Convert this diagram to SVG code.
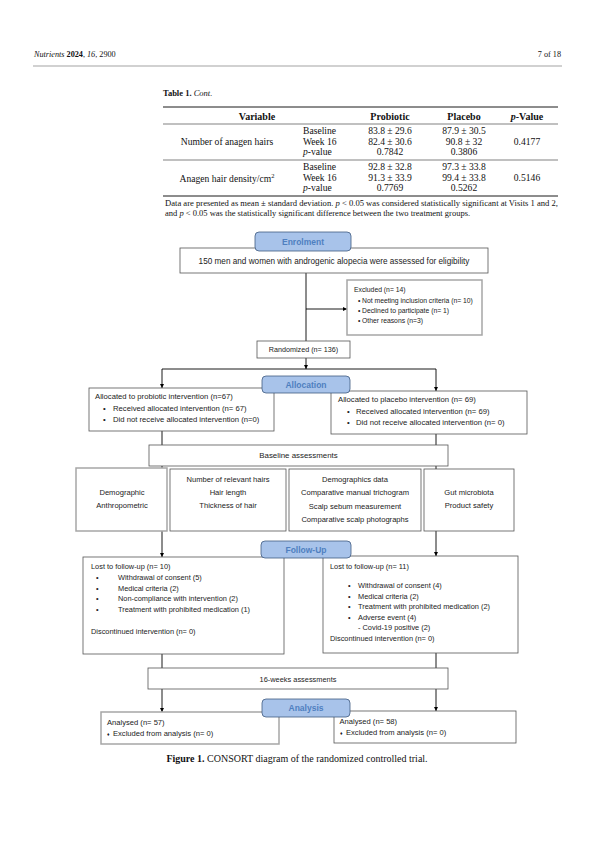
<svg xmlns="http://www.w3.org/2000/svg" width="595" height="842" viewBox="0 0 595 842">
<defs>
<marker id="ah" viewBox="0 0 6 6" refX="6" refY="3" markerWidth="4.5" markerHeight="4.5" orient="auto" markerUnits="userSpaceOnUse"><path d="M0,0 L6,3 L0,6 z" fill="#000"/></marker>
</defs>
<style>
.serif{font-family:"Liberation Serif","DejaVu Serif",serif;fill:#111}
.sans{font-family:"Liberation Sans",Arial,sans-serif;font-size:7.4px;fill:#222}
.f68{font-size:6.8px}
.f72{font-size:7.2px}
.f76{font-size:7.6px}
.f77{font-size:7.7px}
.f79{font-size:7.9px}
.f82{font-size:8.2px}
.dia{font-size:5px}
.c{text-anchor:middle}
.box{fill:#fff;stroke:#555;stroke-width:0.8}
.gbox{fill:#fff;stroke:#a6a6a6;stroke-width:1.5}
.stage{fill:#a8c3ea;stroke:#3f5a80;stroke-width:0.8}
.stxt{font-family:"Liberation Sans",Arial,sans-serif;font-size:8.5px;font-weight:bold;fill:#4f7fc0;text-anchor:middle}
.ln{stroke:#000;stroke-width:0.9;fill:none}
.rule{stroke:#000}
</style>
<rect width="595" height="842" fill="#fff"/>
<g id="header">
<text class="serif" x="34" y="57" font-size="8.2"><tspan font-style="italic">Nutrients</tspan> <tspan font-weight="bold">2024</tspan>, <tspan font-style="italic">16</tspan>, 2900</text>
<text class="serif" x="561" y="57" font-size="8.2" text-anchor="end">7 of 18</text>
<line x1="33" y1="66" x2="562" y2="66" stroke="#666" stroke-width="0.6"/>
</g>
<g id="table">
<text class="serif" x="163" y="96" font-size="8.5"><tspan font-weight="bold">Table 1.</tspan> <tspan font-style="italic">Cont.</tspan></text>
<line class="rule" x1="163" y1="107" x2="558" y2="107" stroke-width="0.9"/>
<g class="serif" font-size="10" font-weight="bold">
<text class="c" x="257" y="119.5">Variable</text>
<text class="c" x="390" y="119.5">Probiotic</text>
<text class="c" x="464" y="119.5">Placebo</text>
<text class="c" x="527" y="119.5"><tspan font-style="italic">p</tspan>-Value</text>
</g>
<line class="rule" x1="163" y1="124" x2="558" y2="124" stroke-width="0.5"/>
<g class="serif" font-size="9.6">
<text class="c" x="227" y="145">Number of anagen hairs</text>
<text x="303" y="133.5">Baseline</text>
<text x="303" y="144.5">Week 16</text>
<text x="303" y="155"><tspan font-style="italic">p</tspan>-value</text>
<text class="c" x="390" y="133.5">83.8 ± 29.6</text>
<text class="c" x="390" y="144.5">82.4 ± 30.6</text>
<text class="c" x="390" y="155">0.7842</text>
<text class="c" x="464" y="133.5">87.9 ± 30.5</text>
<text class="c" x="464" y="144.5">90.8 ± 32</text>
<text class="c" x="464" y="155">0.3806</text>
<text class="c" x="527" y="145">0.4177</text>
</g>
<line class="rule" x1="163" y1="160" x2="558" y2="160" stroke-width="0.5"/>
<g class="serif" font-size="9.6">
<text class="c" x="227" y="181.5">Anagen hair density/cm<tspan font-size="6.5" dy="-3.5">2</tspan></text>
<text x="303" y="169.5">Baseline</text>
<text x="303" y="180.5">Week 16</text>
<text x="303" y="191"><tspan font-style="italic">p</tspan>-value</text>
<text class="c" x="390" y="169.5">92.8 ± 32.8</text>
<text class="c" x="390" y="180.5">91.3 ± 33.9</text>
<text class="c" x="390" y="191">0.7769</text>
<text class="c" x="464" y="169.5">97.3 ± 33.8</text>
<text class="c" x="464" y="180.5">99.4 ± 33.8</text>
<text class="c" x="464" y="191">0.5262</text>
<text class="c" x="527" y="181">0.5146</text>
</g>
<line class="rule" x1="163" y1="196" x2="558" y2="196" stroke-width="0.9"/>
<text class="serif" x="165" y="206" font-size="8.5" textLength="393" lengthAdjust="spacingAndGlyphs">Data are presented as mean ± standard deviation. <tspan font-style="italic">p</tspan> &lt; 0.05 was considered statistically significant at Visits 1 and 2,</text>
<text class="serif" x="165" y="215.5" font-size="8.5">and <tspan font-style="italic">p</tspan> &lt; 0.05 was the statistically significant difference between the two treatment groups.</text>
</g>
<g id="connectors">
<line class="ln" x1="306" y1="273" x2="306" y2="341"/>
<line class="ln" x1="306" y1="309" x2="347" y2="309" marker-end="url(#ah)"/>
<line class="ln" x1="306" y1="358" x2="306" y2="369" marker-end="url(#ah)"/>
<line class="ln" x1="162" y1="369" x2="436" y2="369"/>
<line class="ln" x1="162" y1="369" x2="162" y2="388" marker-end="url(#ah)"/>
<line class="ln" x1="436" y1="369" x2="436" y2="391" marker-end="url(#ah)"/>
<line class="ln" x1="162" y1="431" x2="162" y2="557" marker-end="url(#ah)"/>
<line class="ln" x1="436" y1="434" x2="436" y2="556" marker-end="url(#ah)"/>
<line class="ln" x1="162" y1="654" x2="162" y2="712" marker-end="url(#ah)"/>
<line class="ln" x1="436" y1="653" x2="436" y2="711" marker-end="url(#ah)"/>
</g>
<g id="n-eligibility">
<rect class="box" x="180" y="248" width="308" height="25"/>
<text class="sans f82 c" x="334" y="263.5">150 men and women with androgenic alopecia were assessed for eligibility</text>
</g>
<g id="n-excluded">
<rect class="gbox" x="347" y="280" width="135" height="55"/>
<text class="sans f68" x="354" y="292">Excluded (n= 14)</text>
<text class="sans f68" x="358" y="303">•</text><text class="sans f68" x="362" y="303">Not meeting inclusion criteria (n= 10)</text>
<text class="sans f68" x="358" y="313">•</text><text class="sans f68" x="362" y="313">Declined to participate (n= 1)</text>
<text class="sans f68" x="358" y="323">•</text><text class="sans f68" x="362" y="323">Other reasons (n=3)</text>
</g>
<g id="n-randomized">
<rect class="box" x="257" y="341" width="93" height="17"/>
<text class="sans f72 c" x="303.5" y="352.3">Randomized (n= 136)</text>
</g>
<g id="n-probiotic">
<rect class="box" x="89" y="388" width="185" height="43"/>
<text class="sans f77" x="95" y="399">Allocated to probiotic intervention (n=67)</text>
<text class="sans f77" x="103" y="410.5">•</text><text class="sans f77" x="113" y="410.5">Received allocated intervention (n= 67)</text>
<text class="sans f77" x="103" y="422">•</text><text class="sans f77" x="113" y="422">Did not receive allocated intervention (n=0)</text>
</g>
<g id="n-placebo">
<rect class="box" x="331" y="391" width="196" height="43"/>
<text class="sans f77" x="338" y="402">Allocated to placebo intervention (n= 69)</text>
<text class="sans f77" x="347" y="413.5">•</text><text class="sans f77" x="356" y="413.5">Received allocated intervention (n= 69)</text>
<text class="sans f77" x="347" y="425">•</text><text class="sans f77" x="356" y="425">Did not receive allocated intervention (n= 0)</text>
</g>
<g id="n-baseline">
<rect class="box" x="149" y="445" width="299" height="21"/>
<text class="sans f79 c" x="298.5" y="458.3">Baseline assessments</text>
</g>
<g id="n-demographic">
<rect class="gbox" x="76" y="468" width="91" height="63"/>
<text class="sans f76 c" x="122" y="495">Demographic</text>
<text class="sans f76 c" x="122" y="508">Anthropometric</text>
</g>
<g id="n-hairs">
<rect class="box" x="170" y="469" width="116" height="62"/>
<text class="sans f76 c" x="228" y="482">Number of relevant hairs</text>
<text class="sans f76 c" x="228" y="495">Hair length</text>
<text class="sans f76 c" x="228" y="508">Thickness of hair</text>
</g>
<g id="n-trichogram">
<rect class="box" x="289" y="469" width="132" height="62"/>
<text class="sans f76 c" x="355" y="482">Demographics data</text>
<text class="sans f76 c" x="355" y="495">Comparative manual trichogram</text>
<text class="sans f76 c" x="355" y="508.5">Scalp sebum measurement</text>
<text class="sans f76 c" x="355" y="522">Comparative scalp photographs</text>
</g>
<g id="n-gut">
<rect class="box" x="424" y="469" width="90" height="62"/>
<text class="sans f76 c" x="469" y="495">Gut microbiota</text>
<text class="sans f76 c" x="469" y="508">Product safety</text>
</g>
<g id="n-lost-left">
<rect class="box" x="83" y="557" width="201" height="97"/>
<text class="sans" x="91" y="569">Lost to follow-up (n= 10)</text>
<text class="sans" x="96" y="580">•</text><text class="sans" x="118" y="580">Withdrawal of consent (5)</text>
<text class="sans" x="96" y="590.5">•</text><text class="sans" x="118" y="590.5">Medical criteria (2)</text>
<text class="sans" x="96" y="601">•</text><text class="sans" x="118" y="601">Non-compliance with intervention (2)</text>
<text class="sans" x="96" y="612">•</text><text class="sans" x="118" y="612">Treatment with prohibited medication (1)</text>
<text class="sans" x="91" y="634">Discontinued intervention (n= 0)</text>
</g>
<g id="n-lost-right">
<rect class="box" x="323" y="556" width="195" height="97"/>
<text class="sans" x="330" y="569">Lost to follow-up (n= 11)</text>
<text class="sans" x="348" y="588">•</text><text class="sans" x="358" y="588">Withdrawal of consent (4)</text>
<text class="sans" x="348" y="598.5">•</text><text class="sans" x="358" y="598.5">Medical criteria (2)</text>
<text class="sans" x="348" y="609">•</text><text class="sans" x="358" y="609">Treatment with prohibited medication (2)</text>
<text class="sans" x="348" y="619.5">•</text><text class="sans" x="358" y="619.5">Adverse event (4)</text>
<text class="sans" x="358" y="630">- Covid-19 positive (2)</text>
<text class="sans" x="330" y="641">Discontinued intervention (n= 0)</text>
</g>
<g id="n-16weeks">
<rect class="box" x="148" y="668" width="300" height="21"/>
<text class="sans c" x="298" y="681.5">16-weeks assessments</text>
</g>
<g id="n-analysed-left">
<rect class="gbox" x="101" y="712" width="178" height="32"/>
<text class="sans f76" x="107" y="724.5">Analysed (n= 57)</text>
<text class="sans dia" x="107" y="735.5">♦</text><text class="sans f76" x="113" y="735.5">Excluded from analysis (n= 0)</text>
</g>
<g id="n-analysed-right">
<rect class="box" x="334" y="711" width="182" height="32"/>
<text class="sans f76" x="339.5" y="723.5">Analysed (n= 58)</text>
<text class="sans dia" x="340" y="735">♦</text><text class="sans f76" x="346" y="735">Excluded from analysis (n= 0)</text>
</g>
<g id="stage-enrolment">
<rect class="stage" x="255" y="232" width="96" height="19" rx="4"/>
<text class="stxt" x="303" y="244.5">Enrolment</text>
</g>
<g id="stage-allocation">
<rect class="stage" x="262" y="376" width="88" height="17" rx="4"/>
<text class="stxt" x="306" y="387.5">Allocation</text>
</g>
<g id="stage-followup">
<rect class="stage" x="261" y="541" width="90" height="17" rx="4"/>
<text class="stxt" x="306" y="552.5">Follow-Up</text>
</g>
<g id="stage-analysis">
<rect class="stage" x="262" y="699" width="88" height="18" rx="4"/>
<text class="stxt" x="306" y="711">Analysis</text>
</g>
<g id="caption">
<text class="serif c" x="297" y="762" font-size="10"><tspan font-weight="bold">Figure 1.</tspan> CONSORT diagram of the randomized controlled trial.</text>
</g>
</svg>
